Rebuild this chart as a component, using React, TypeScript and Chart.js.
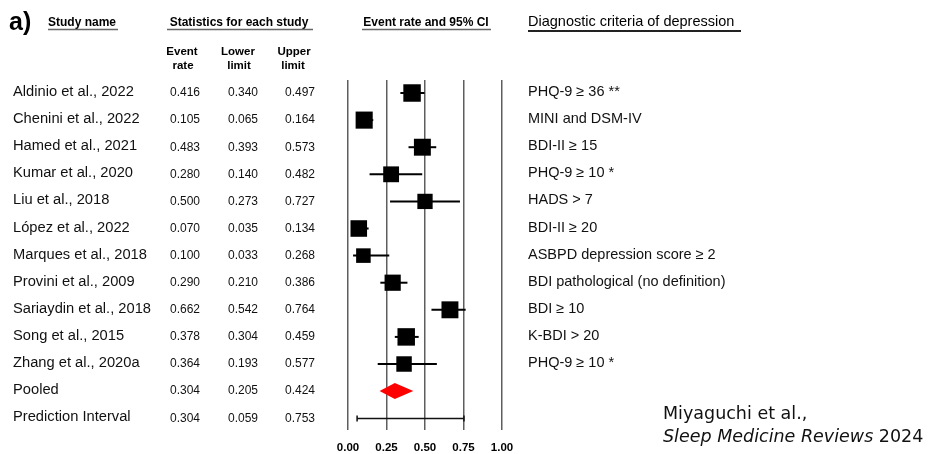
import React, { useEffect, useRef } from "react";
import { Chart, registerables } from "chart.js";

Chart.register(...registerables);

const studies = [
  "Aldinio et al., 2022",
  "Chenini et al., 2022",
  "Hamed et al., 2021",
  "Kumar et al., 2020",
  "Liu et al., 2018",
  "López et al., 2022",
  "Marques et al., 2018",
  "Provini et al., 2009",
  "Sariaydin et al., 2018",
  "Song et al., 2015",
  "Zhang et al., 2020a",
];
const eventRates = [0.416, 0.105, 0.483, 0.28, 0.5, 0.07, 0.1, 0.29, 0.662, 0.378, 0.364];
const lowerLimits = [0.34, 0.065, 0.393, 0.14, 0.273, 0.035, 0.033, 0.21, 0.542, 0.304, 0.193];
const upperLimits = [0.497, 0.164, 0.573, 0.482, 0.727, 0.134, 0.268, 0.386, 0.764, 0.459, 0.577];
const criteria = [
  "PHQ-9 ≥ 36 **",
  "MINI and DSM-IV",
  "BDI-II ≥ 15",
  "PHQ-9 ≥ 10 *",
  "HADS > 7",
  "BDI-II ≥ 20",
  "ASBPD depression score ≥ 2",
  "BDI pathological (no definition)",
  "BDI ≥ 10",
  "K-BDI > 20",
  "PHQ-9 ≥ 10 *",
];
// relative study weights
const studyWeights = [9.6, 9.4, 9.3, 8.7, 8.4, 9.1, 8.0, 8.9, 9.3, 9.6, 8.5];

const summaryLabels = ["Pooled", "Prediction Interval"];
const summaryRates = [0.304, 0.304];
const summaryLowers = [0.205, 0.059];
const summaryUppers = [0.424, 0.753];

const xTickValues = [0, 0.25, 0.5, 0.75, 1];

const fmt = (v: number) => v.toFixed(3);

const SANS = '"Liberation Sans", Arial, Helvetica, sans-serif';
const VERD = '"DejaVu Sans", Verdana, sans-serif';

const forestPlugin = {
  id: "forest",
  beforeDatasetsDraw(chart: any) {
    const { ctx } = chart;
    const x = chart.scales.x;
    const y = chart.scales.y;
    ctx.save();
    // whiskers
    ctx.strokeStyle = "#000";
    ctx.lineWidth = 2;
    eventRates.forEach((_, i) => {
      const py = y.getPixelForValue(i);
      ctx.beginPath();
      ctx.moveTo(x.getPixelForValue(lowerLimits[i]), py);
      ctx.lineTo(x.getPixelForValue(upperLimits[i]), py);
      ctx.stroke();
    });
    // pooled diamond
    const n = studies.length;
    const dy = y.getPixelForValue(n);
    const h = 8;
    ctx.fillStyle = "#ff0000";
    ctx.beginPath();
    ctx.moveTo(x.getPixelForValue(summaryLowers[0]), dy);
    ctx.lineTo(x.getPixelForValue(summaryRates[0]), dy - h);
    ctx.lineTo(x.getPixelForValue(summaryUppers[0]), dy);
    ctx.lineTo(x.getPixelForValue(summaryRates[0]), dy + h);
    ctx.closePath();
    ctx.fill();
    // prediction interval
    const py2 = Math.round(y.getPixelForValue(n + 1)) + 0.5;
    const x1 = x.getPixelForValue(summaryLowers[1]);
    const x2 = x.getPixelForValue(summaryUppers[1]);
    ctx.lineWidth = 1.5;
    ctx.strokeStyle = "#111";
    ctx.beginPath();
    ctx.moveTo(x1, py2);
    ctx.lineTo(x2, py2);
    ctx.moveTo(x1, py2 - 3);
    ctx.lineTo(x1, py2 + 3);
    ctx.moveTo(x2, py2 - 3);
    ctx.lineTo(x2, py2 + 3);
    ctx.stroke();
    ctx.restore();
  },
  afterDraw(chart: any) {
    const { ctx } = chart;
    const x = chart.scales.x;
    const y = chart.scales.y;
    ctx.save();
    ctx.fillStyle = "#000";

    // panel label
    ctx.font = `bold 25px ${SANS}`;
    ctx.textAlign = "left";
    ctx.textBaseline = "alphabetic";
    ctx.fillText("a)", 9, 30);

    // headers
    ctx.textBaseline = "middle";
    ctx.font = `bold 12px ${SANS}`;
    ctx.textAlign = "left";
    ctx.fillText("Study name", 48, 23);
    ctx.textAlign = "center";
    ctx.fillText("Statistics for each study", 239, 23);
    ctx.fillText("Event rate and 95% CI", 426, 23);

    ctx.font = `14.5px ${SANS}`;
    ctx.textAlign = "left";
    ctx.fillText("Diagnostic criteria of depression", 528, 22);

    // underlines
    ctx.strokeStyle = "#666";
    ctx.lineWidth = 1.5;
    ctx.beginPath();
    ctx.moveTo(48, 29.5);
    ctx.lineTo(118, 29.5);
    ctx.moveTo(167, 29.5);
    ctx.lineTo(313, 29.5);
    ctx.moveTo(362, 29.5);
    ctx.lineTo(491, 29.5);
    ctx.stroke();
    ctx.strokeStyle = "#222";
    ctx.lineWidth = 2;
    ctx.beginPath();
    ctx.moveTo(528, 31);
    ctx.lineTo(741, 31);
    ctx.stroke();

    // sub headers
    ctx.font = `bold 11.5px ${SANS}`;
    ctx.textAlign = "center";
    ctx.fillText("Event", 182, 52);
    ctx.fillText("rate", 183, 66);
    ctx.fillText("Lower", 238, 52);
    ctx.fillText("limit", 239, 66);
    ctx.fillText("Upper", 294, 52);
    ctx.fillText("limit", 293, 66);

    const colX = [170, 228, 285];
    const rowText = (label: string, vals: number[], i: number) => {
      const py = y.getPixelForValue(i) - 1;
      ctx.textAlign = "left";
      ctx.font = `14.7px ${SANS}`;
      ctx.fillStyle = "#111";
      ctx.fillText(label, 13, py);
      ctx.font = `12px ${SANS}`;
      vals.forEach((v, k) => ctx.fillText(fmt(v), colX[k], py + 1));
    };
    studies.forEach((s, i) => {
      rowText(s, [eventRates[i], lowerLimits[i], upperLimits[i]], i);
      ctx.font = `14.5px ${SANS}`;
      ctx.fillText(criteria[i], 528, y.getPixelForValue(i) - 1);
    });
    summaryLabels.forEach((s, k) => {
      rowText(s, [summaryRates[k], summaryLowers[k], summaryUppers[k]], studies.length + k);
    });

    // x tick labels
    ctx.fillStyle = "#000";
    ctx.font = `bold 11.5px ${SANS}`;
    ctx.textAlign = "center";
    x.ticks.forEach((t: any) => {
      ctx.fillText(Number(t.value).toFixed(2), x.getPixelForValue(t.value), 448);
    });

    // attribution
    ctx.textAlign = "left";
    ctx.font = `17.5px ${VERD}`;
    ctx.fillStyle = "#111";
    ctx.fillText("Miyaguchi et al.,", 663, 414);
    ctx.font = `italic 17.5px ${VERD}`;
    ctx.fillText("Sleep Medicine Reviews", 663, 437);
    const w = ctx.measureText("Sleep Medicine Reviews ").width;
    ctx.font = `17.5px ${VERD}`;
    ctx.fillText("2024", 663 + w, 437);
    ctx.restore();
  },
};

export default function App() {
  const ref = useRef<HTMLCanvasElement | null>(null);
  useEffect(() => {
    if (!ref.current) return;
    const n = studies.length;
    const chart = new Chart(ref.current, {
      type: "scatter",
      data: {
        datasets: [
          {
            data: eventRates.map((r, i) => ({ x: r, y: i })),
            pointStyle: "rect",
            pointRadius: studyWeights.map((w) => (w * 1.82) / 2 / Math.SQRT1_2),
            pointBackgroundColor: "#000",
            pointBorderWidth: 0,
            borderWidth: 0,
            clip: false,
          } as any,
        ],
      },
      options: {
        responsive: false,
        animation: false,
        events: [],
        layout: { padding: { left: 348, right: 429, top: 80, bottom: 24 } },
        plugins: { legend: { display: false }, tooltip: { enabled: false } },
        scales: {
          x: {
            type: "linear",
            min: 0,
            max: 1,
            afterBuildTicks: (scale: any) => {
              scale.ticks = xTickValues.map((v) => ({ value: v }));
            },
            ticks: { display: false },
            border: { display: false },
            grid: { color: "#5e5e5e", lineWidth: 1.5, drawTicks: false },
          },
          y: {
            type: "linear",
            reverse: true,
            min: -0.48,
            max: n + 1 + 0.435,
            display: false,
          },
        },
      },
      plugins: [forestPlugin],
    });
    return () => chart.destroy();
  }, []);
  return (
    <div style={{ position: "absolute", left: 0, top: 0, width: 931, height: 454, background: "#fff" }}>
      <canvas ref={ref} width={931} height={454} style={{ display: "block" }} />
    </div>
  );
}
